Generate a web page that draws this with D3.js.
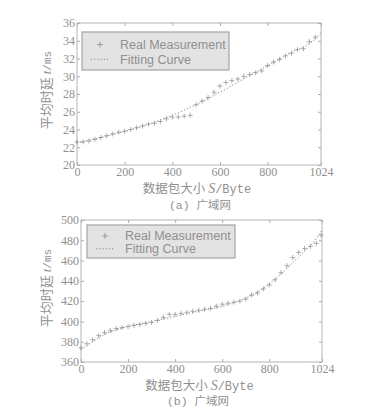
<!DOCTYPE html>
<html><head><meta charset="utf-8">
<script src="https://cdn.jsdelivr.net/npm/d3@7"></script>
<style>body{margin:0;background:#fff}svg{display:block}</style>
</head><body>
<script>
// ---------- DATA ----------
const xTicks = [0, 200, 400, 600, 800, 1024];
const yTicksA = [20, 22, 24, 26, 28, 30, 32, 34, 36];
const yTicksB = [360, 380, 400, 420, 440, 460, 480, 500];

const sizesA = [0,25,50,75,100,125,150,175,200,225,250,275,300,325,350,375,400,425,450,475,500,525,550,575,600,625,650,675,700,725,750,775,800,825,850,875,900,925,950,975,1000];
const measuredA = [22.6,22.6,22.7,22.9,23.1,23.3,23.5,23.7,23.8,24.0,24.2,24.4,24.6,24.7,24.9,25.2,25.4,25.4,25.5,25.6,26.8,27.2,27.6,28.2,28.9,29.3,29.5,29.7,30.0,30.2,30.4,30.6,31.2,31.6,31.9,32.3,32.6,33.0,33.1,33.9,34.4];
const fitSizesA = [0,100,200,300,400,500,600,700,800,900,1000,1024];
const fitA = [22.5,23.1,23.8,24.6,25.6,26.8,28.2,29.7,31.2,32.7,34.2,34.9];

const sizesB = [0,25,50,75,100,125,150,175,200,225,250,275,300,325,350,375,400,425,450,475,500,525,550,575,600,625,650,675,700,725,750,775,800,825,850,875,900,925,950,975,1000,1020];
const measuredB = [374,378,382,386,389,391,393,394,395,396,397,398,399,401,404,407,407,408,409,410,411,412,413,415,417,418,419,420,422,426,428,432,436,441,448,455,463,468,472,474,477,485];
const fitSizesB = [0,100,200,300,400,500,600,700,800,900,1000,1024];
const fitB = [372,387,395,400,405,410,415,423,437,458,482,490];

const legendLabels = ["Real Measurement", "Fitting Curve"];
const captions = ["(a) 广域网", "(b) 广域网"];

// ---------- DRAW ----------
const W = 369, H = 411;
const svg = d3.select("body").append("svg").attr("width", W).attr("height", H);
const ink = "#909090";

function panel(o) {
  const g = svg.append("g");
  const x = d3.scaleLinear().domain([0, 1024]).range([o.x0, o.x1]);
  const y = d3.scaleLinear().domain(o.yDomain).range([o.y1, o.y0]);

  g.append("rect").attr("x", o.x0).attr("y", o.y0).attr("width", o.x1 - o.x0).attr("height", o.y1 - o.y0)
    .attr("fill", "none").attr("stroke", "#b4b4b4").attr("stroke-width", 1);

  const fmt = d => d;
  const axB = g.append("g").attr("transform", `translate(0,${o.y1})`)
    .call(d3.axisBottom(x).tickValues(xTicks).tickSize(-3).tickPadding(2).tickFormat(fmt));
  const axT = g.append("g").attr("transform", `translate(0,${o.y0})`)
    .call(d3.axisTop(x).tickValues(xTicks).tickSize(-3).tickFormat(""));
  const axL = g.append("g").attr("transform", `translate(${o.x0},0)`)
    .call(d3.axisLeft(y).tickValues(o.yTicks).tickSize(-3).tickPadding(2).tickFormat(fmt));
  const axR = g.append("g").attr("transform", `translate(${o.x1},0)`)
    .call(d3.axisRight(y).tickValues(o.yTicks).tickSize(-3).tickFormat(""));
  [axB, axT, axL, axR].forEach(a => {
    a.select(".domain").remove();
    a.selectAll("line").attr("stroke", "#acacac");
    a.selectAll("text").attr("fill", ink).attr("font-family", "Liberation Serif, serif").attr("font-size", 12);
  });

  const line = d3.line().x((d, i) => x(o.fitX[i])).y(d => y(d)).curve(d3.curveMonotoneX);
  g.append("path").datum(o.fitY).attr("d", line).attr("fill", "none")
    .attr("stroke", "#8a8a8a").attr("stroke-width", 1).attr("stroke-dasharray", "1.2,2");

  const s = 2.5;
  g.append("g").selectAll("path").data(o.measY).join("path")
    .attr("d", (d, i) => {
      const cx = x(o.measX[i]), cy = y(d);
      return `M${cx - s},${cy}H${cx + s}M${cx},${cy - s}V${cy + s}`;
    })
    .attr("stroke", "#8c8c8c").attr("stroke-width", 0.7).attr("fill", "none");

  const L = o.legend;
  g.append("rect").attr("x", L.x).attr("y", L.y).attr("width", L.w).attr("height", L.h)
    .attr("fill", "#e3e3e3").attr("stroke", "#a4a4a4").attr("stroke-width", 1.2);
  const ly1 = L.y + L.h * 0.33, ly2 = L.y + L.h * 0.72;
  const sx = L.x + 18;
  g.append("path").attr("d", `M${sx - 3},${ly1}H${sx + 3}M${sx},${ly1 - 3}V${ly1 + 3}`)
    .attr("stroke", "#8a8a8a").attr("stroke-width", 0.8);
  g.append("line").attr("x1", sx - 9).attr("x2", sx + 9).attr("y1", ly2).attr("y2", ly2)
    .attr("stroke", "#8a8a8a").attr("stroke-dasharray", "1.2,2");
  g.selectAll("text.leg").data(legendLabels).join("text").attr("class", "leg")
    .attr("x", L.x + 38).attr("y", (d, i) => (i ? ly2 : ly1) + 4.5)
    .attr("fill", ink).attr("font-family", "Liberation Sans, Arial, sans-serif").attr("font-size", 12.5)
    .text(d => d);

  const xl = g.append("text").attr("x", (o.x0 + o.x1) / 2 - 2).attr("y", o.xLabY)
    .attr("text-anchor", "middle").attr("fill", ink).attr("font-size", 12.5);
  xl.append("tspan").attr("font-family", "Noto Sans CJK SC").text("数据包大小 ");
  xl.append("tspan").attr("font-family", "Liberation Serif, serif").attr("font-style", "italic").attr("font-size", 14).text("S");
  xl.append("tspan").attr("font-family", "Liberation Mono, monospace").attr("font-size", 12).text("/Byte");

  const yl = g.append("text").attr("transform", `translate(${o.yLabX},${o.yLabY}) rotate(-90)`)
    .attr("text-anchor", "middle").attr("fill", ink).attr("font-size", 13);
  yl.append("tspan").attr("font-family", "Noto Sans CJK SC").text("平均时延 ");
  yl.append("tspan").attr("font-family", "Liberation Serif, serif").attr("font-style", "italic").text("t");
  yl.append("tspan").attr("font-family", "Liberation Mono, monospace").attr("font-size", 11).text("/ms");

  const c = g.append("text").attr("x", o.capX).attr("y", o.capY).attr("text-anchor", "middle")
    .attr("fill", ink).attr("font-size", 11.5);
  c.append("tspan").attr("font-family", "Liberation Mono, monospace").text(o.caption.slice(0, 4));
  c.append("tspan").attr("font-family", "Noto Sans CJK SC").text(o.caption.slice(4));
}

panel({
  x0: 77, x1: 321, y0: 23, y1: 165, yDomain: [20, 36], yTicks: yTicksA,
  measX: sizesA, measY: measuredA, fitX: fitSizesA, fitY: fitA,
  legend: { x: 82, y: 32, w: 147, h: 38 },
  xLabY: 193, yLabX: 51, yLabY: 90, capX: 200, capY: 209, caption: captions[0]
});
panel({
  x0: 81, x1: 322, y0: 220, y1: 362, yDomain: [360, 500], yTicks: yTicksB,
  measX: sizesB, measY: measuredB, fitX: fitSizesB, fitY: fitB,
  legend: { x: 87, y: 225, w: 148, h: 33 },
  xLabY: 390, yLabX: 51, yLabY: 288, capX: 198, capY: 405, caption: captions[1]
});
</script>
</body></html>
